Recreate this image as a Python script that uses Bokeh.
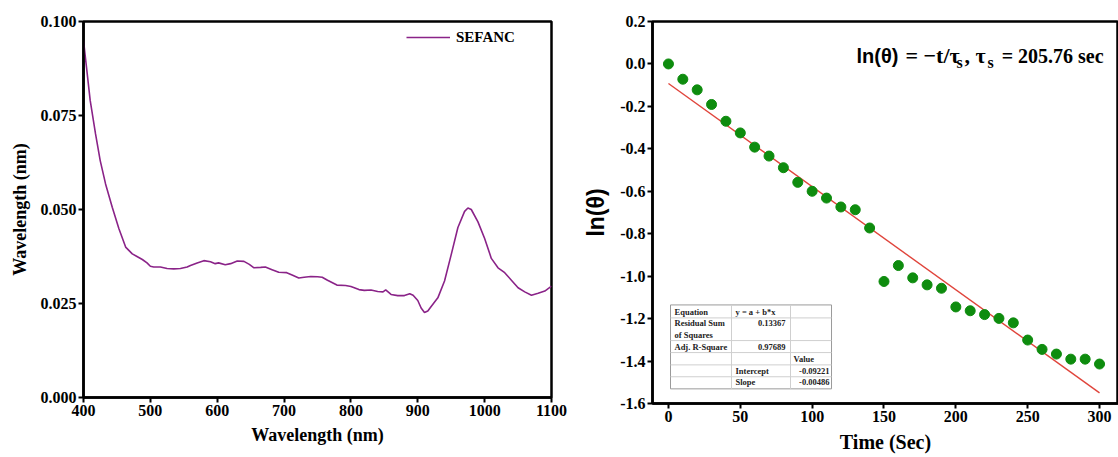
from bokeh.plotting import figure
from bokeh.layouts import row
from bokeh.models import (Range1d, FixedTicker, NumeralTickFormatter, Label,
                          ColumnDataSource)
from bokeh.core.properties import value
from bokeh.embed import file_html
from bokeh.resources import INLINE

# ---------------- data: left panel (absorption spectrum) ----------------
wavelength = [400, 405, 410, 418, 425, 433, 443, 453, 463, 473, 480, 488, 495, 500,
              505, 515, 525, 535, 545, 555, 560, 570, 580, 590, 597, 602, 612, 620,
              630, 640, 648, 655, 665, 672, 682, 692, 704, 712, 722, 730, 740, 750,
              757, 765, 779, 792, 800, 812, 820, 830, 840, 848, 852, 860, 870, 880,
              888, 893, 900, 905, 910, 915, 920, 930, 940, 950, 960, 970, 975, 980,
              990, 1000, 1010, 1020, 1030, 1040, 1050, 1060, 1070, 1080, 1090, 1100]
sefanc = [0.0949, 0.0870, 0.0790, 0.0701, 0.0630, 0.0568, 0.0506, 0.0449, 0.0400,
          0.0382, 0.0375, 0.0367, 0.0358, 0.0349, 0.0347, 0.0347, 0.0343, 0.0342,
          0.0343, 0.0347, 0.0351, 0.0358, 0.0364, 0.0361, 0.0356, 0.0358, 0.0353,
          0.0356, 0.0363, 0.0362, 0.0354, 0.0345, 0.0346, 0.0347, 0.0340, 0.0333,
          0.0332, 0.0326, 0.0318, 0.0320, 0.0322, 0.0321, 0.0320, 0.0312, 0.0299,
          0.0298, 0.0295, 0.0287, 0.0285, 0.0286, 0.0282, 0.0281, 0.0286, 0.0274,
          0.0271, 0.0271, 0.0276, 0.0272, 0.0258, 0.0238, 0.0226, 0.0230, 0.0242,
          0.0265, 0.0310, 0.0380, 0.0452, 0.0495, 0.0504, 0.0500, 0.0467, 0.0423,
          0.0370, 0.0345, 0.0332, 0.0312, 0.0292, 0.0281, 0.0272, 0.0277, 0.0283,
          0.0296]
left_xticks = [400, 500, 600, 700, 800, 900, 1000, 1100]
left_yticks = [0.0, 0.025, 0.05, 0.075, 0.1]

# ---------------- data: right panel (ln(theta) vs time) ----------------
time_s = [0, 10, 20, 30, 40, 50, 60, 70, 80, 90, 100, 110, 120, 130, 140, 150,
          160, 170, 180, 190, 200, 210, 220, 230, 240, 250, 260, 270, 280, 290, 300]
ln_theta = [0.0, -0.072, -0.122, -0.191, -0.270, -0.325, -0.392, -0.434, -0.489,
            -0.558, -0.600, -0.632, -0.674, -0.687, -0.773, -1.025, -0.950, -1.008,
            -1.041, -1.057, -1.145, -1.163, -1.181, -1.199, -1.220, -1.301, -1.345,
            -1.367, -1.391, -1.391, -1.414]
fit_intercept = -0.09221
fit_slope = -0.00486
fit_rss = 0.13367
fit_adj_r2 = 0.97689
fit_t = [0, 300]
right_xticks = [0, 50, 100, 150, 200, 250, 300]
right_yticks = [-1.6, -1.4, -1.2, -1.0, -0.8, -0.6, -0.4, -0.2, 0.0, 0.2]

SERIF = "Liberation Serif"
SANS = "Liberation Sans"


def style_axes(p, tick_size):
    for ax in (p.xaxis[0], p.yaxis[0]):
        ax.axis_line_width = 2.5
        ax.axis_line_color = "black"
        ax.major_tick_line_width = 2
        ax.major_tick_line_color = "black"
        ax.major_tick_out = 5
        ax.major_tick_in = 0
        ax.minor_tick_out = 0
        ax.minor_tick_in = 0
        ax.major_label_text_font = SERIF
        ax.major_label_text_font_style = "bold"
        ax.major_label_text_font_size = tick_size
        ax.major_label_text_color = "black"
        ax.major_label_standoff = 2
        ax.axis_label_text_color = "black"
    p.xgrid.visible = False
    p.ygrid.visible = False
    p.outline_line_color = "black"
    p.outline_line_width = 2.5
    p.outline_line_alpha = 1.0
    p.background_fill_color = "white"
    p.border_fill_color = "white"


# ---------------- left figure ----------------
p1 = figure(frame_width=468, frame_height=376, min_border_left=83, min_border_right=19,
            min_border_top=21, min_border_bottom=10,
            x_range=Range1d(400, 1100), y_range=Range1d(0, 0.1),
            output_backend="svg", toolbar_location=None)
style_axes(p1, "16px")
p1.xaxis.ticker = FixedTicker(ticks=left_xticks)
p1.yaxis.ticker = FixedTicker(ticks=left_yticks)
p1.yaxis.formatter = NumeralTickFormatter(format="0.000")
p1.xaxis.axis_label = "Wavelength (nm)"
p1.yaxis.axis_label = "Wavelength (nm)"
for ax in (p1.xaxis[0], p1.yaxis[0]):
    ax.axis_label_text_font = SERIF
    ax.axis_label_text_font_style = "bold"
    ax.axis_label_text_font_size = "18px"
p1.xaxis.axis_label_standoff = 6
p1.yaxis.axis_label_standoff = 8

p1.line(wavelength, sefanc, line_color="#8a2388", line_width=1.6, legend_label="SEFANC")
lg = p1.legend[0]
lg.location = (323, 350)
lg.glyph_width = 44
lg.glyph_height = 20
lg.label_height = 20
lg.label_standoff = 6
lg.padding = 0
lg.margin = 0
lg.spacing = 0
lg.background_fill_alpha = 0
lg.border_line_alpha = 0
lg.label_text_font = SERIF
lg.label_text_font_style = "bold"
lg.label_text_font_size = "15px"
lg.label_text_color = "black"

# ---------------- right figure ----------------
p2 = figure(frame_width=466, frame_height=382, min_border_left=82, min_border_right=0,
            min_border_top=21, min_border_bottom=10,
            x_range=Range1d(-11.1, 313.2), y_range=Range1d(-1.6, 0.2),
            output_backend="svg", toolbar_location=None)
style_axes(p2, "16px")
p2.xaxis.ticker = FixedTicker(ticks=right_xticks)
p2.yaxis.ticker = FixedTicker(ticks=right_yticks)
p2.yaxis.formatter = NumeralTickFormatter(format="0.0")
p2.xaxis.axis_label = "Time (Sec)"
p2.xaxis.axis_label_text_font = SERIF
p2.xaxis.axis_label_text_font_style = "bold"
p2.xaxis.axis_label_text_font_size = "20px"
p2.xaxis.axis_label_standoff = 6
p2.yaxis.axis_label = "ln(θ)"
p2.yaxis.axis_label_text_font = SANS
p2.yaxis.axis_label_text_font_style = "bold"
p2.yaxis.axis_label_text_font_size = "23px"
p2.yaxis.axis_label_standoff = 8

fit_y = [fit_intercept + fit_slope * t for t in fit_t]
p2.line(fit_t, fit_y, line_color="#e0453c", line_width=1.4)
p2.scatter(time_s, ln_theta, size=10, fill_color="#0e8c0e", line_color="#0e8c0e")


# formula annotation (pixel x -> data x using the axis scale of this frame)
def px2x(px):
    return -11.1 + (px - 652) / 1.4367


def add_lab(px, y, text, font, size, align="left"):
    p2.add_layout(Label(x=px2x(px), y=y, text=text, text_font=font, text_font_size=size,
                        text_font_style="bold", text_color="black",
                        text_baseline="alphabetic", text_align=align))


add_lab(856, 0.0376, "ln(θ)", SANS, "20px")
add_lab(905, 0.0376, "= −t/τ", SERIF, "22px")
add_lab(956, 0.0070, "s", SERIF, "16px")
add_lab(964, 0.0376, ", τ", SERIF, "22px")
add_lab(987, 0.0070, "s", SERIF, "16px")
add_lab(1103, 0.0376, "= 205.76 sec", SERIF, "20px", align="right")

# fit-results table inset
tx = [px2x(v) for v in (670, 731, 790, 831)]
ty = [-1.1355, -1.1967, -1.3035, -1.36, -1.418, -1.474, -1.531]
p2.quad(left=tx[0], right=tx[3], top=ty[0], bottom=ty[-1],
         fill_color="white", line_color="#9a9a9a", line_width=1)
p2.segment(x0=[tx[0]] * 5, x1=[tx[3]] * 5, y0=ty[1:-1], y1=ty[1:-1],
           line_color="#cfcfcf", line_width=1)
p2.segment(x0=tx[1:3], x1=tx[1:3], y0=[ty[0]] * 2, y1=[ty[-1]] * 2,
           line_color="#cfcfcf", line_width=1)

c1L, c2L, c2R, c3L, c3R = (px2x(v) for v in (674, 735, 785, 793, 829))
rows_y = [-1.167, -1.219, -1.275, -1.332, -1.388, -1.445, -1.501]
tbl_left = ColumnDataSource(dict(
    x=[c1L, c2L, c1L, c1L, c1L, c3L, c2L, c2L],
    y=[rows_y[0], rows_y[0], rows_y[1], rows_y[2], rows_y[3], rows_y[4], rows_y[5], rows_y[6]],
    t=["Equation", "y = a + b*x", "Residual Sum", "of Squares", "Adj. R-Square",
       "Value", "Intercept", "Slope"]))
tbl_right = ColumnDataSource(dict(
    x=[c2R, c2R, c3R, c3R],
    y=[rows_y[1], rows_y[3], rows_y[5], rows_y[6]],
    t=[f"{fit_rss:.5f}", f"{fit_adj_r2:.5f}", f"{fit_intercept:.5f}", f"{fit_slope:.5f}"]))
p2.text(x="x", y="y", text="t", source=tbl_left, text_font=value(SERIF),
        text_font_style="bold", text_font_size="8.5px", text_color="#222222",
        text_baseline="middle", text_align="left")
p2.text(x="x", y="y", text="t", source=tbl_right, text_font=value(SERIF),
        text_font_style="bold", text_font_size="8.5px", text_color="#222222",
        text_baseline="middle", text_align="right")

layout = row(p1, p2)
open("out.html", "w").write(file_html(layout, INLINE))
